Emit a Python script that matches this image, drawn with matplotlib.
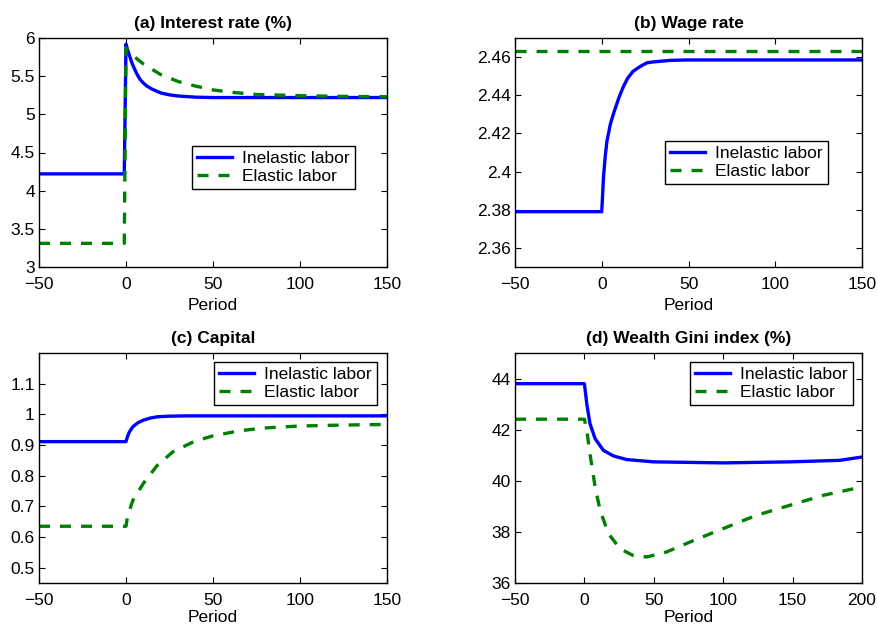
import matplotlib
matplotlib.use("Agg")
import matplotlib.pyplot as plt
import numpy as np

plt.rcParams['font.family'] = ['Liberation Sans', 'DejaVu Sans']

BLUE = (0, 0, 1)
GREEN = (0, 0.5, 0)

# (a) Interest rate (%)
r_in_t = [-50, -1, 0, 1, 2, 3, 4, 6, 8, 10, 12, 15, 20, 25, 30, 40, 50, 150]
r_in_v = [4.22, 4.22, 5.92, 5.84, 5.77, 5.70, 5.64, 5.54, 5.46, 5.41, 5.37, 5.33, 5.28, 5.255, 5.24,
          5.225, 5.22, 5.22]
r_el_t = [-50, -1, 0, 2, 5, 10, 15, 20, 30, 40, 50, 60, 75, 100, 125, 150]
r_el_v = [3.31, 3.31, 5.87, 5.82, 5.75, 5.66, 5.59, 5.52, 5.43, 5.37, 5.32, 5.29, 5.26, 5.245, 5.235, 5.23]

# (b) Wage rate
w_in_t = [-50, -1, 0, 1, 2, 3, 5, 7, 10, 12.5, 15, 18, 22, 26, 30, 40, 50, 150]
w_in_v = [2.379, 2.379, 2.379, 2.397, 2.408, 2.416, 2.425, 2.431, 2.439, 2.4446, 2.449, 2.4525,
          2.455, 2.457, 2.4575, 2.4583, 2.4585, 2.4585]
w_el_t = [-50, 150]
w_el_v = [2.4632, 2.4632]

# (c) Capital
k_in_t = [-50, 0, 1, 2, 4, 7, 10, 14, 18, 25, 35, 50, 150]
k_in_v = [0.911, 0.911, 0.93, 0.943, 0.96, 0.973, 0.981, 0.988, 0.992, 0.994, 0.995, 0.995, 0.995]
k_el_t = [-50, 0, 1, 4, 10, 18, 27, 39, 50, 66, 81, 100, 125, 150]
k_el_v = [0.635, 0.635, 0.671, 0.72, 0.775, 0.834, 0.878, 0.911, 0.930, 0.947, 0.956, 0.962, 0.965, 0.967]

# (d) Wealth Gini index (%)
g_in_t = [-50, 0, 1.7, 4, 7.7, 13.7, 21, 30.5, 50, 100, 148, 184, 200]
g_in_v = [43.80, 43.80, 43.02, 42.24, 41.65, 41.19, 40.97, 40.83, 40.74, 40.70, 40.74, 40.80, 40.93]
g_el_t = [-50, 0, 1.7, 4, 7.7, 11.3, 17.3, 25.7, 35, 45, 59, 79, 100, 124, 148, 172, 200]
g_el_v = [42.41, 42.41, 41.98, 41.06, 39.76, 38.85, 37.93, 37.34, 37.08, 37.02, 37.21, 37.67,
          38.13, 38.65, 39.04, 39.43, 39.76]

panels = [
    dict(title='(a) Interest rate (%)', inel=(r_in_t, r_in_v), el=(r_el_t, r_el_v),
         xlim=(-50, 150), xticks=[-50, 0, 50, 100, 150], ylim=(3, 6),
         yticks=[3, 3.5, 4, 4.5, 5, 5.5, 6], yfmt=lambda v: ('%g' % v),
         leg=(0.44, 0.528), rect=[39, 38, 348, 229], lp=4.5),
    dict(title='(b) Wage rate', inel=(w_in_t, w_in_v), el=(w_el_t, w_el_v),
         xlim=(-50, 150), xticks=[-50, 0, 50, 100, 150], ylim=(2.35, 2.47),
         yticks=[2.36, 2.38, 2.40, 2.42, 2.44, 2.46], yfmt=lambda v: ('%g' % round(v, 2)),
         leg=(0.432, 0.552), rect=[515, 38, 347, 229], lp=4.5),
    dict(title='(c) Capital', inel=(k_in_t, k_in_v), el=(k_el_t, k_el_v),
         xlim=(-50, 150), xticks=[-50, 0, 50, 100, 150], ylim=(0.45, 1.2),
         yticks=[0.5, 0.6, 0.7, 0.8, 0.9, 1.0, 1.1], yfmt=lambda v: ('%g' % round(v, 1)),
         leg=(0.503, 0.961), rect=[39, 353, 348, 230], lp=2.0),
    dict(title='(d) Wealth Gini index (%)', inel=(g_in_t, g_in_v), el=(g_el_t, g_el_v),
         xlim=(-50, 200), xticks=[-50, 0, 50, 100, 150, 200], ylim=(36, 45),
         yticks=[36, 38, 40, 42, 44], yfmt=lambda v: ('%g' % v),
         leg=(0.504, 0.961), rect=[515, 353, 347, 230], lp=2.0),
]

W, H = 878, 627
fig = plt.figure(figsize=(W / 100, H / 100), dpi=100)

for p in panels:
    x0, y0, w, h = p['rect']
    ax = fig.add_axes([x0 / W, 1 - (y0 + h) / H, w / W, h / H])
    ax.plot(p['inel'][0], p['inel'][1], color=BLUE, lw=2.4, label='Inelastic labor',
            solid_joinstyle='round')
    ax.plot(p['el'][0], p['el'][1], color=GREEN, lw=2.4, dashes=(3.3, 3.0),
            label='Elastic labor')
    ax.set_xlim(*p['xlim'])
    ax.set_ylim(*p['ylim'])
    ax.set_xticks(p['xticks'])
    ax.set_xticklabels(['\u2212' + str(-t) if t < 0 else str(t) for t in p['xticks']])
    ax.set_yticks(p['yticks'])
    ax.set_yticklabels([p['yfmt'](v) for v in p['yticks']])
    ax.tick_params(axis='both', direction='in', length=4, width=0.8, top=True, right=True,
                   labelsize=12.5)
    ax.tick_params(axis='x', pad=7)
    ax.tick_params(axis='y', pad=3)
    for s in ax.spines.values():
        s.set_linewidth(1.0)
    ax.set_xlabel('Period', fontsize=12.5, labelpad=p['lp'])
    ax.set_title(p['title'], fontsize=12.5, fontweight='bold', pad=7)
    leg = ax.legend(loc='upper left', bbox_to_anchor=p['leg'], borderaxespad=0,
                    fontsize=12.5, frameon=True, fancybox=False, framealpha=1,
                    edgecolor='black', handlelength=2.0, handletextpad=0.6,
                    borderpad=0.3, labelspacing=0.15)
    leg.get_frame().set_linewidth(1.0)

fig.savefig('out.png', dpi=100)
